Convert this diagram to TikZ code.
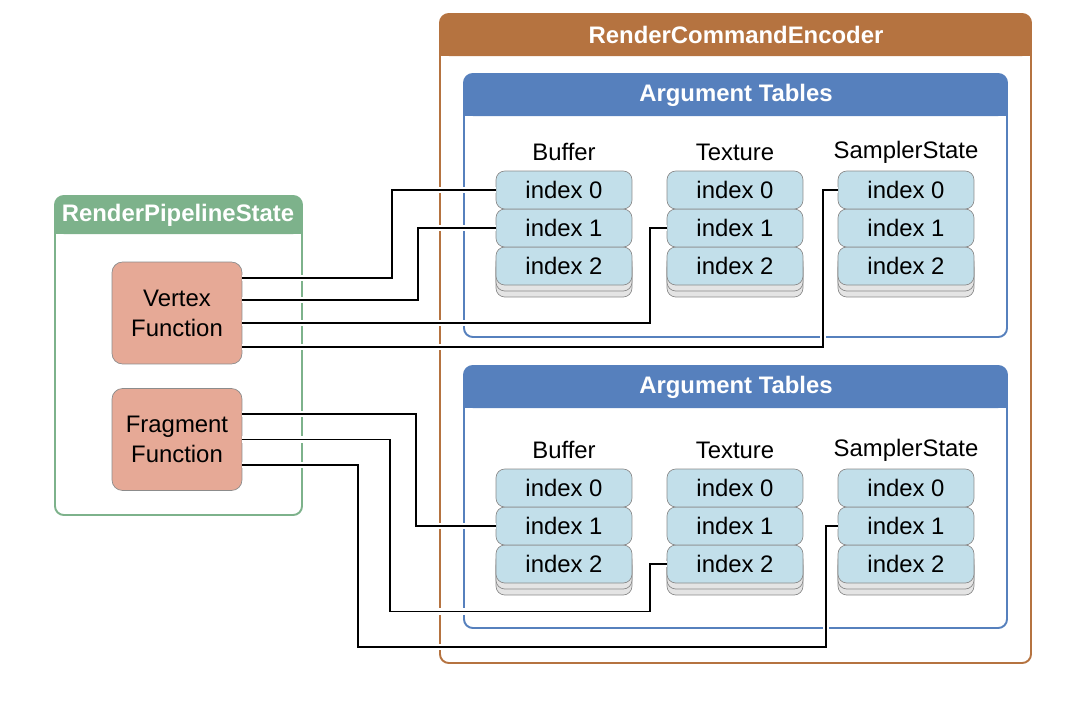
\documentclass[tikz,border=0pt]{standalone}
\usepackage{fontspec}
\setmainfont{Liberation Sans}
\definecolor{encorange}{HTML}{B57340}
\definecolor{argblue}{HTML}{5680BD}
\definecolor{pipegreen}{HTML}{7DB28B}
\definecolor{funcsalmon}{HTML}{E6A996}
\definecolor{indexblue}{HTML}{C2DFEA}
\definecolor{shadowgrey}{HTML}{E4E4E4}
\definecolor{edgegrey}{HTML}{8C8C8C}
\begin{document}
\begin{tikzpicture}
[x=0.02cm,y=-0.02cm,
  boxdecorate/.style={line width=1.1pt,rounded corners=5pt},%
  titledecorate/.style={text=white,font=\fontsize{13.6}{16}\selectfont\bfseries},%
  labeldecorate/.style={font=\fontsize{13.6}{16}\selectfont},%
  indexdecorate/.style={shape=rectangle,rounded corners=5pt,draw=edgegrey,fill=indexblue,
    minimum width=2.72cm,minimum height=0.76cm,inner sep=0pt,font=\fontsize{13.6}{16}\selectfont},%
  shadowdecorate/.style={indexdecorate,fill=shadowgrey},%
  funcdecorate/.style={shape=rectangle,rounded corners=6pt,draw=edgegrey,fill=funcsalmon,
    minimum width=2.6cm,minimum height=2.04cm,align=center,font=\fontsize{13.6}{17}\selectfont},%
  linedecorate/.style={-,line width=1.1pt,preaction={draw=white,line width=3.5pt}}]
\useasboundingbox (0,0) rectangle (1072,704);
% containers
\fill[encorange,rounded corners=5pt] (440,14) rectangle (1031,56);
\fill[encorange] (440,40) rectangle (1031,56);
\draw[boxdecorate,encorange] (440,14) rectangle (1031,663);
\fill[argblue,rounded corners=5pt] (464,74) rectangle (1007,116);
\fill[argblue] (464,100) rectangle (1007,116);
\draw[boxdecorate,argblue] (464,74) rectangle (1007,337);
\fill[argblue,rounded corners=5pt] (464,366) rectangle (1007,408);
\fill[argblue] (464,392) rectangle (1007,408);
\draw[boxdecorate,argblue] (464,366) rectangle (1007,628);
\fill[pipegreen,rounded corners=5pt] (55,196) rectangle (302,234);
\fill[pipegreen] (55,220) rectangle (302,234);
\draw[boxdecorate,pipegreen] (55,196) rectangle (302,515);
% titles
\node (enctitle) at (736,35) [titledecorate] {RenderCommandEncoder};
\node (uargtitle) at (736,95) [titledecorate] {Argument Tables};
\node (largtitle) at (736,387) [titledecorate] {Argument Tables};
\node (pipetitle) at (178,215) [titledecorate] {RenderPipelineState};
% column labels
\node (ubuf) at (564,152) [labeldecorate] {Buffer};
\node (utex) at (735,152) [labeldecorate] {Texture};
\node (usam) at (906,152) [labeldecorate] {SamplerState};
\node (lbuf) at (564,450) [labeldecorate] {Buffer};
\node (ltex) at (735,450) [labeldecorate] {Texture};
\node (lsam) at (906,450) [labeldecorate] {SamplerState};
% functions
\node (vf) at (177,313) [funcdecorate] {Vertex\\Function};
\node (ff) at (177,439.5) [funcdecorate] {Fragment\\Function};
% upper argument tables
\node (ubs2) at (564,278) [shadowdecorate] {};
\node (ubs1) at (564,272) [shadowdecorate] {};
\node (ub2) at (564,266) [indexdecorate] {index 2};
\node (ub1) at (564,228) [indexdecorate] {index 1};
\node (ub0) at (564,190) [indexdecorate] {index 0};
\node (uts2) at (735,278) [shadowdecorate] {};
\node (uts1) at (735,272) [shadowdecorate] {};
\node (ut2) at (735,266) [indexdecorate] {index 2};
\node (ut1) at (735,228) [indexdecorate] {index 1};
\node (ut0) at (735,190) [indexdecorate] {index 0};
\node (uss2) at (906,278) [shadowdecorate] {};
\node (uss1) at (906,272) [shadowdecorate] {};
\node (us2) at (906,266) [indexdecorate] {index 2};
\node (us1) at (906,228) [indexdecorate] {index 1};
\node (us0) at (906,190) [indexdecorate] {index 0};
% lower argument tables
\node (lbs2) at (564,576) [shadowdecorate] {};
\node (lbs1) at (564,570) [shadowdecorate] {};
\node (lb2) at (564,564) [indexdecorate] {index 2};
\node (lb1) at (564,526) [indexdecorate] {index 1};
\node (lb0) at (564,488) [indexdecorate] {index 0};
\node (lts2) at (735,576) [shadowdecorate] {};
\node (lts1) at (735,570) [shadowdecorate] {};
\node (lt2) at (735,564) [indexdecorate] {index 2};
\node (lt1) at (735,526) [indexdecorate] {index 1};
\node (lt0) at (735,488) [indexdecorate] {index 0};
\node (lss2) at (906,576) [shadowdecorate] {};
\node (lss1) at (906,570) [shadowdecorate] {};
\node (ls2) at (906,564) [indexdecorate] {index 2};
\node (ls1) at (906,526) [indexdecorate] {index 1};
\node (ls0) at (906,488) [indexdecorate] {index 0};
% connections
\draw[linedecorate] ([yshift=0.7cm]vf.east) -- ++(150,0) |- (ub0.west);
\draw[linedecorate] ([yshift=0.26cm]vf.east) -- ++(176,0) |- (ub1.west);
\draw[linedecorate] ([yshift=-0.2cm]vf.east) -- ++(408,0) |- (ut1.west);
\draw[linedecorate] ([yshift=-0.68cm]vf.east) -- ++(581,0) |- (us0.west);
\draw[linedecorate] ([yshift=0.51cm]ff.east) -- ++(174,0) |- (lb1.west);
\draw[linedecorate] (ff.east) -- ++(148,0) -- ++(0,172) -- ++(260,0) |- (lt2.west);
\draw[linedecorate] ([yshift=-0.51cm]ff.east) -- ++(116,0) -- ++(0,182) -- ++(468,0) |- (ls1.west);
\end{tikzpicture}
\end{document}
